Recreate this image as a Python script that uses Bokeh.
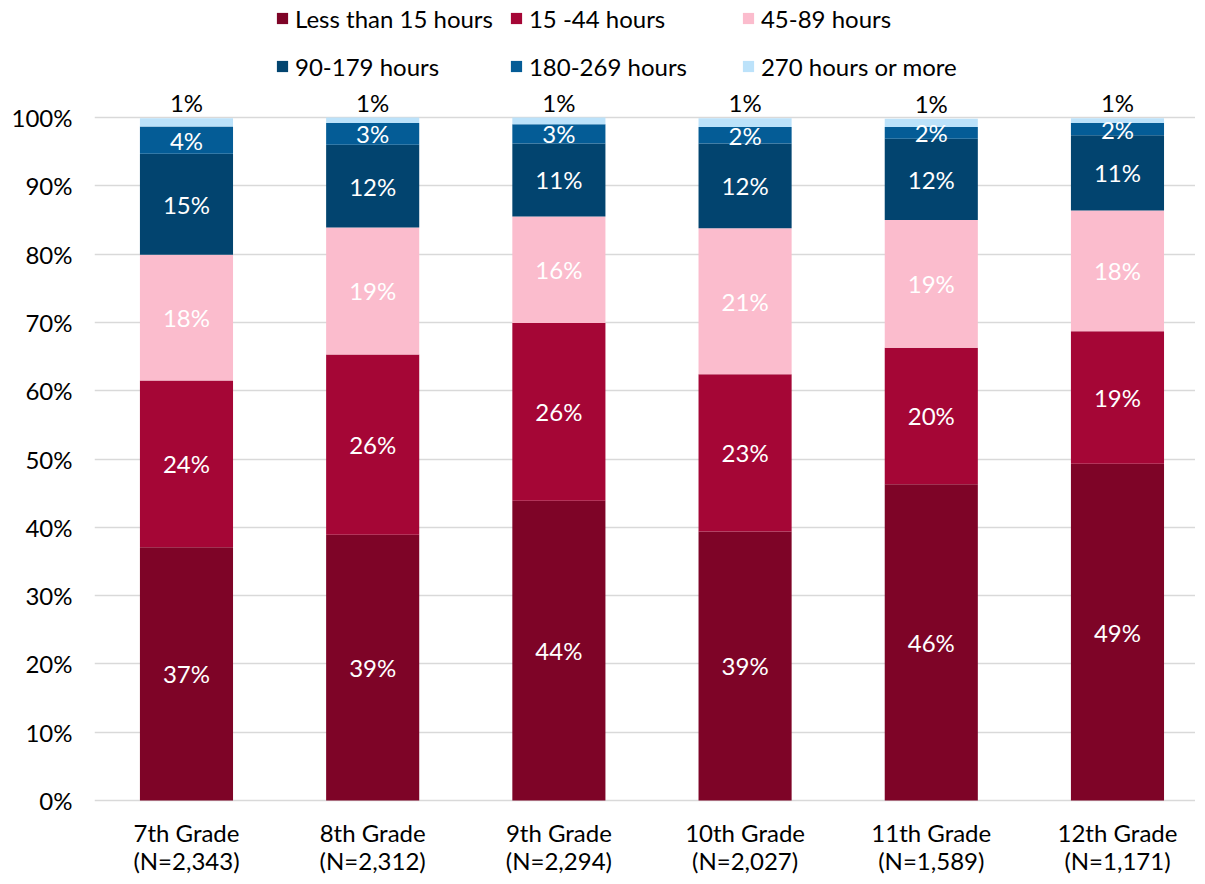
import numpy as np
from bokeh.plotting import figure
from bokeh.models import (ColumnDataSource, Range1d, FixedTicker,
                          PrintfTickFormatter, Legend, LegendItem)
from bokeh.embed import file_html
from bokeh.resources import INLINE
from bokeh.core.properties import value

grades = ["7th Grade", "8th Grade", "9th Grade", "10th Grade", "11th Grade", "12th Grade"]
n_labels = ["(N=2,343)", "(N=2,312)", "(N=2,294)", "(N=2,027)", "(N=1,589)", "(N=1,171)"]
series_names = ["Less than 15 hours", "15 -44 hours", "45-89 hours",
                "90-179 hours", "180-269 hours", "270 hours or more"]

less_15 = [37.1, 38.9, 43.9, 39.4, 46.3, 49.3]
h15_44 = [24.4, 26.4, 26.0, 23.0, 20.0, 19.4]
h45_89 = [18.4, 18.6, 15.6, 21.4, 18.7, 17.7]
h90_179 = [14.8, 12.1, 10.7, 12.4, 11.9, 11.0]
h180_269 = [4.0, 3.2, 2.8, 2.4, 1.7, 1.8]
h270_plus = [1.2, 0.8, 1.0, 1.3, 1.2, 0.7]

y_ticks = [0, 10, 20, 30, 40, 50, 60, 70, 80, 90, 100]
colors = ["#7E0427", "#A50636", "#FBBCCD", "#02446F", "#045C96", "#BCE2FA"]

FONT = "Lato"
FS = "24px"

xpos = [i + 0.5 for i in range(len(grades))]

keys = ["s0", "s1", "s2", "s3", "s4", "s5"]
series = [less_15, h15_44, h45_89, h90_179, h180_269, h270_plus]
data = {"x": xpos}
for k, s in zip(keys, series):
    data[k] = s
src = ColumnDataSource(data)

p = figure(x_range=Range1d(0.006, 5.919), y_range=Range1d(-10.83, 117.13),
           width=1195, height=874, output_backend="svg",
           toolbar_location=None, tools="")
p.min_border_top = 0
p.min_border_left = 94
p.min_border_right = 0
p.min_border_bottom = 0
p.outline_line_color = None
p.xaxis.visible = False

renderers = p.vbar_stack(keys, x="x", width=0.5, color=colors, source=src,
                         line_color=None)

# segment labels
arr = np.array(series)
cum = np.cumsum(arr, axis=0)
lab_x, lab_y, lab_t = [], [], []
for i in range(5):
    for j in range(len(grades)):
        lab_x.append(xpos[j])
        lab_y.append(cum[i, j] - arr[i, j] / 2)
        lab_t.append(f"{int(round(arr[i, j]))}%")
lsrc = ColumnDataSource(dict(x=lab_x, y=lab_y, t=lab_t))
p.text(x="x", y="y", text="t", text_color="white", source=lsrc,
       text_font=value(FONT), text_font_size=FS,
       text_align="center", text_baseline="middle")

top_src = ColumnDataSource(dict(x=xpos, y=list(cum[5]),
                                t=[f"{int(round(v))}%" for v in h270_plus]))
p.text(x="x", y="y", text="t", source=top_src, text_color="black",
       text_font=value(FONT), text_font_size=FS,
       text_align="center", text_baseline="bottom", y_offset=-1)

# category labels (two lines) below the 0% baseline
cat_src = ColumnDataSource(dict(x=xpos, y=[0] * len(grades), g=grades, n=n_labels))
p.text(x="x", y="y", text="g", source=cat_src, text_color="black",
       text_font=value(FONT), text_font_size=FS,
       text_align="center", text_baseline="middle", y_offset=32)
p.text(x="x", y="y", text="n", source=cat_src, text_color="black",
       text_font=value(FONT), text_font_size=FS,
       text_align="center", text_baseline="middle", y_offset=60)

# y axis
p.yaxis.ticker = FixedTicker(ticks=y_ticks)
p.yaxis.formatter = PrintfTickFormatter(format="%d%%")
p.ygrid.ticker = FixedTicker(ticks=y_ticks)
p.ygrid.grid_line_color = "#D9D9D9"
p.ygrid.grid_line_width = 1.5
p.xgrid.visible = False
ax = p.yaxis[0]
ax.axis_line_color = None
ax.major_tick_line_color = None
ax.minor_tick_line_color = None
ax.major_label_text_font = FONT
ax.major_label_text_font_size = FS
ax.major_label_text_color = "black"
ax.major_label_standoff = 16

legend = Legend(items=[LegendItem(label=n, renderers=[r]) for n, r in zip(series_names, renderers)],
                ncols=3, orientation="horizontal",
                location=(181, 792))
legend.label_text_font = FONT
legend.label_text_font_size = FS
legend.label_text_color = "black"
legend.glyph_width = 14
legend.glyph_height = 14
legend.label_standoff = 6
legend.label_width = 196
legend.label_height = 32
legend.spacing = 16
legend.padding = 0
legend.margin = 0
legend.border_line_color = None
legend.background_fill_alpha = 0
p.add_layout(legend, "center")

open("out.html", "w").write(file_html(p, INLINE))
